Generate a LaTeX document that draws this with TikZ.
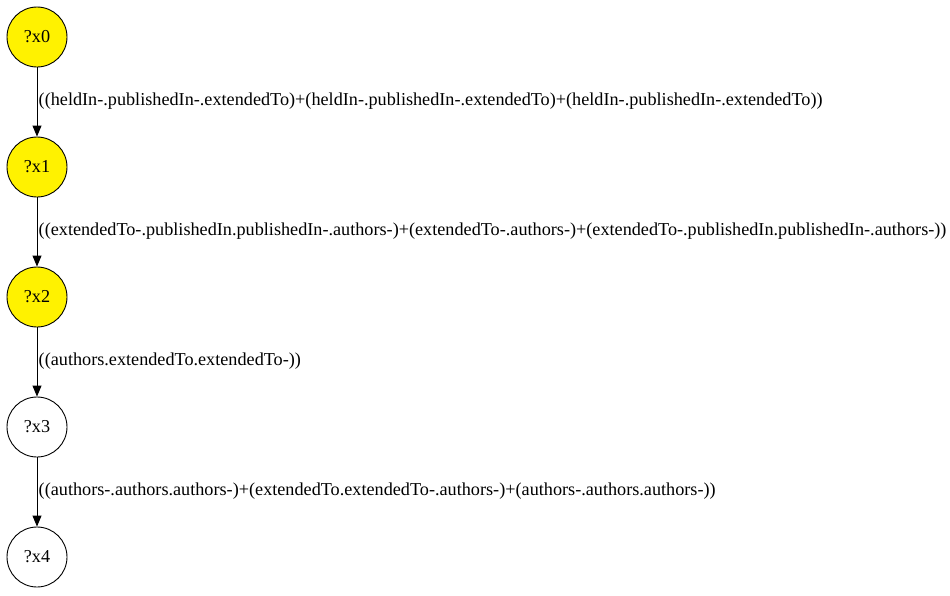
\documentclass[tikz,border=0pt]{standalone}
\usepackage{fontspec}
\setmainfont{Liberation Serif}
\usetikzlibrary{arrows.meta}

\begin{document}
\begin{tikzpicture}[x=1pt,y=1pt]
\tikzstyle{var}=[draw=black,line width=0.9pt,circle,minimum size=60pt,inner sep=0pt,font=\fontsize{18.2}{20}\selectfont]
\tikzstyle{seen}=[var,fill=yellow]
\tikzstyle{lbl}=[anchor=west,inner sep=0pt,font=\fontsize{18.2}{20}\selectfont]
\tikzstyle{edge}=[draw=black,line width=0.9pt,-{Triangle[length=11pt,width=9pt]}]
\useasboundingbox (0,0) rectangle (950,-595);
\node [seen] (x0) at (37,-37) {?x0};
\node [seen] (x1) at (37,-167) {?x1};
\node [seen] (x2) at (37,-297) {?x2};
\node [var] (x3) at (37,-427) {?x3};
\node [var] (x4) at (37,-557) {?x4};
\draw [edge] (x0) -- (x1);
\draw [edge] (x1) -- (x2);
\draw [edge] (x2) -- (x3);
\draw [edge] (x3) -- (x4);
\node [lbl] (l01) at (38.5,-101) {((heldIn-.publishedIn-.extendedTo)+(heldIn-.publishedIn-.extendedTo)+(heldIn-.publishedIn-.extendedTo))};
\node [lbl] (l12) at (38.5,-231) {((extendedTo-.publishedIn.publishedIn-.authors-)+(extendedTo-.authors-)+(extendedTo-.publishedIn.publishedIn-.authors-))};
\node [lbl] (l23) at (38.5,-361) {((authors.extendedTo.extendedTo-))};
\node [lbl] (l34) at (38.5,-491) {((authors-.authors.authors-)+(extendedTo.extendedTo-.authors-)+(authors-.authors.authors-))};
\end{tikzpicture}
\end{document}
